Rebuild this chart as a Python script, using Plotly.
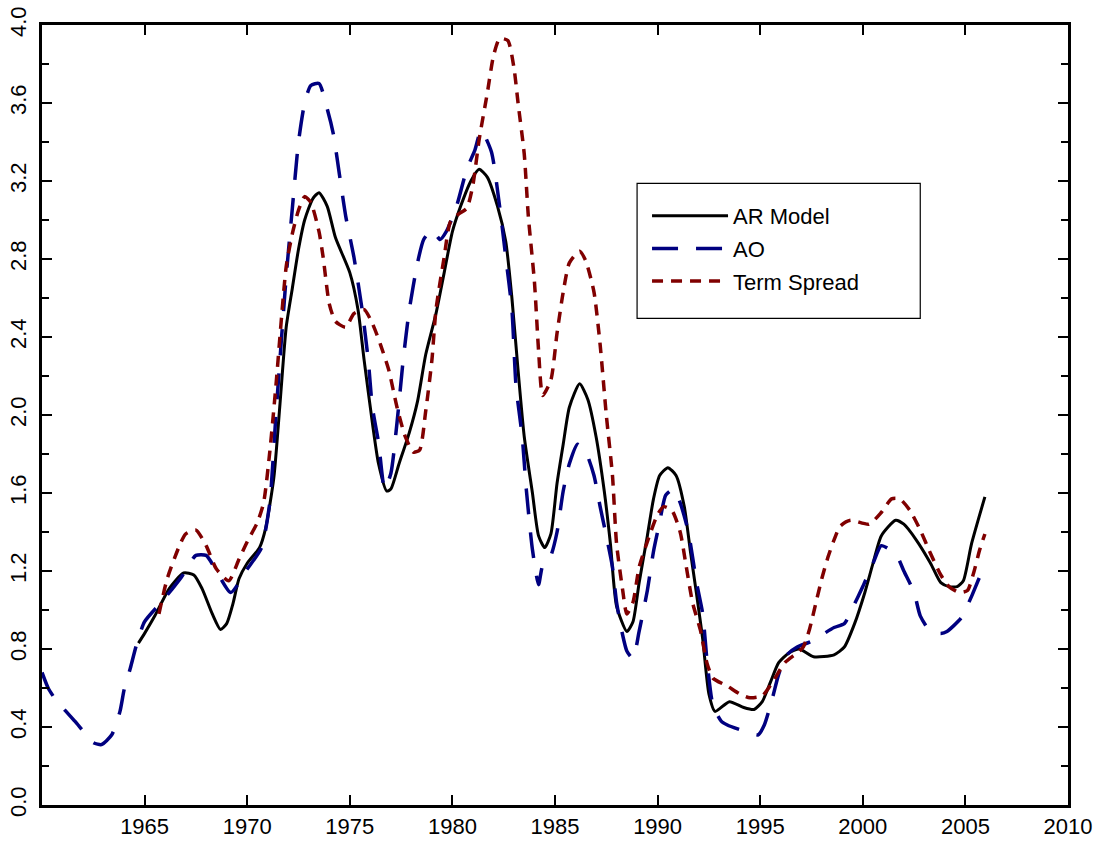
import plotly.graph_objects as go

ar_years = [1964.7, 1965.0, 1965.5, 1966.2, 1966.9, 1967.4, 1967.8, 1968.3, 1968.7, 1969.0,
            1969.3, 1969.6, 1970.0, 1970.6, 1970.9, 1971.3, 1971.6, 1971.9, 1972.2, 1972.5,
            1972.8, 1973.2, 1973.5, 1973.9, 1974.3, 1975.0, 1975.4, 1975.7, 1976.1, 1976.4,
            1976.8, 1977.0, 1977.4, 1977.9, 1978.3, 1978.7, 1979.2, 1979.6, 1980.0, 1980.4,
            1980.9, 1981.3, 1981.7, 1982.2, 1982.6, 1982.9, 1983.2, 1983.5, 1983.9, 1984.2,
            1984.5, 1984.8, 1985.1, 1985.4, 1985.7, 1986.2, 1986.6, 1987.0, 1987.4, 1987.7,
            1988.0, 1988.5, 1988.8, 1989.1, 1989.5, 1989.8, 1990.1, 1990.5, 1990.9, 1991.3,
            1991.6, 1991.9, 1992.2, 1992.5, 1992.8, 1993.5, 1994.2, 1994.7, 1995.1, 1995.5,
            1995.9, 1996.4, 1996.9, 1997.6, 1998.6, 1999.1, 1999.6, 2000.1, 2000.5, 2000.9,
            2001.6, 2002.0, 2002.6, 2003.3, 2003.8, 2004.2, 2004.6, 2004.9, 2005.3, 2005.95]
ar_values = [0.83, 0.88, 0.97, 1.11, 1.19, 1.18, 1.11, 0.98, 0.90, 0.93,
             1.03, 1.16, 1.24, 1.32, 1.42, 1.68, 2.06, 2.45, 2.65, 2.85,
             3.00, 3.11, 3.14, 3.07, 2.91, 2.73, 2.54, 2.28, 1.96, 1.75,
             1.61, 1.62, 1.75, 1.91, 2.07, 2.31, 2.52, 2.73, 2.94, 3.07,
             3.20, 3.26, 3.22, 3.07, 2.89, 2.60, 2.23, 1.89, 1.60, 1.38,
             1.32, 1.39, 1.65, 1.85, 2.04, 2.16, 2.08, 1.89, 1.61, 1.34,
             1.02, 0.89, 0.94, 1.14, 1.38, 1.57, 1.69, 1.73, 1.69, 1.53,
             1.30, 1.08, 0.85, 0.57, 0.48, 0.53, 0.50, 0.49, 0.53, 0.63,
             0.73, 0.78, 0.80, 0.76, 0.77, 0.81, 0.93, 1.09, 1.24, 1.38,
             1.46, 1.44, 1.36, 1.24, 1.14, 1.12, 1.12, 1.15, 1.34, 1.58]

ao_years = [1960.0, 1960.3, 1960.6, 1961.0, 1961.6, 1962.0, 1962.5, 1962.9, 1963.4, 1963.8,
            1964.0, 1964.3, 1964.6, 1965.0, 1965.9, 1966.8, 1967.5, 1968.0, 1968.5, 1969.2,
            1970.0, 1970.7, 1971.1, 1971.4, 1971.9, 1972.2, 1972.5, 1972.8, 1973.1, 1973.5,
            1973.9, 1974.2, 1974.5, 1974.8, 1975.2, 1975.6, 1975.9, 1976.1, 1976.4, 1976.7,
            1977.0, 1977.3, 1977.6, 1977.9, 1978.3, 1978.6, 1979.0, 1979.4, 1979.7, 1980.2,
            1980.7, 1981.1, 1981.4, 1981.9, 1982.3, 1982.6, 1982.9, 1983.1, 1983.4, 1983.6,
            1983.9, 1984.2, 1984.4, 1984.8, 1985.1, 1985.4, 1985.7, 1986.1, 1986.5, 1986.9,
            1987.2, 1987.5, 1987.8, 1988.0, 1988.3, 1988.5, 1988.8, 1989.1, 1989.5, 1989.8,
            1990.1, 1990.4, 1990.8, 1991.1, 1991.5, 1991.9, 1992.2, 1992.4, 1992.7, 1993.1,
            1993.4, 1993.9, 1994.5, 1994.9, 1995.2, 1995.6, 1995.9, 1996.3, 1996.8, 1997.5,
            1998.6, 1999.1, 1999.5, 2000.0, 2000.5, 2000.9, 2001.3, 2001.7, 2002.0, 2002.5,
            2002.8, 2003.3, 2003.8, 2004.1, 2004.8, 2005.3, 2005.7, 2005.95]
ao_values = [0.68, 0.60, 0.55, 0.50, 0.43, 0.38, 0.32, 0.31, 0.36, 0.48,
             0.59, 0.70, 0.82, 0.94, 1.05, 1.17, 1.28, 1.28, 1.20, 1.09,
             1.21, 1.32, 1.55, 2.00, 2.71, 3.06, 3.40, 3.60, 3.69, 3.70,
             3.57, 3.44, 3.23, 3.02, 2.81, 2.54, 2.28, 2.04, 1.86, 1.62,
             1.70, 1.96, 2.28, 2.54, 2.78, 2.90, 2.95, 2.90, 2.94, 3.07,
             3.26, 3.36, 3.46, 3.35, 3.07, 2.81, 2.54, 2.15, 1.89, 1.62,
             1.31, 1.13, 1.23, 1.28, 1.40, 1.61, 1.75, 1.85, 1.81, 1.69,
             1.53, 1.38, 1.22, 1.04, 0.87, 0.79, 0.75, 0.89, 1.10, 1.30,
             1.45, 1.59, 1.62, 1.55, 1.40, 1.14, 0.98, 0.75, 0.51, 0.43,
             0.41, 0.39, 0.37, 0.36, 0.41, 0.55, 0.67, 0.77, 0.81, 0.84,
             0.91, 0.93, 1.01, 1.12, 1.24, 1.33, 1.31, 1.27, 1.20, 1.09,
             0.97, 0.89, 0.88, 0.89, 0.96, 1.07, 1.17, 1.22]

ts_years = [1965.7, 1966.1, 1966.7, 1967.0, 1967.5, 1968.0, 1968.5, 1969.1, 1969.6, 1970.0,
            1970.5, 1970.8, 1971.1, 1971.4, 1971.9, 1972.2, 1972.5, 1972.8, 1973.1, 1973.5,
            1973.7, 1974.0, 1974.3, 1974.8, 1975.2, 1975.7, 1976.1, 1976.5, 1976.9, 1977.3,
            1977.7, 1978.1, 1978.4, 1978.7, 1979.0, 1979.2, 1979.6, 1979.9, 1980.3, 1980.7,
            1981.0, 1981.3, 1981.7, 1982.0, 1982.3, 1982.7, 1983.0, 1983.2, 1983.5, 1983.7,
            1984.0, 1984.2, 1984.4, 1984.8, 1985.1, 1985.4, 1985.7, 1986.2, 1986.5, 1986.9,
            1987.2, 1987.5, 1987.8, 1988.0, 1988.3, 1988.5, 1988.8, 1989.1, 1989.6, 1990.0,
            1990.3, 1990.7, 1991.1, 1991.4, 1991.7, 1992.1, 1992.4, 1992.7, 1993.4, 1994.0,
            1994.5, 1995.1, 1995.6, 1996.2, 1996.8, 1997.1, 1997.4, 1997.7, 1998.0, 1998.3,
            1998.6, 1998.9, 1999.4, 2000.3, 2000.9, 2001.4, 2001.8, 2002.3, 2002.8, 2003.3,
            2003.8, 2004.2, 2004.7, 2005.1, 2005.4, 2005.7, 2005.95]
ts_values = [0.98, 1.16, 1.33, 1.39, 1.41, 1.33, 1.21, 1.15, 1.26, 1.35,
             1.45, 1.55, 1.81, 2.15, 2.76, 2.93, 3.05, 3.12, 3.09, 2.94,
             2.81, 2.57, 2.48, 2.45, 2.52, 2.54, 2.47, 2.36, 2.23, 2.04,
             1.89, 1.81, 1.82, 2.02, 2.28, 2.54, 2.81, 2.99, 3.03, 3.06,
             3.18, 3.41, 3.65, 3.84, 3.93, 3.92, 3.78, 3.60, 3.34, 3.02,
             2.68, 2.33, 2.10, 2.18, 2.42, 2.63, 2.78, 2.84, 2.79, 2.63,
             2.36, 2.00, 1.69, 1.34, 1.10, 0.98, 1.04, 1.22, 1.38, 1.49,
             1.53, 1.51, 1.40, 1.22, 1.04, 0.89, 0.73, 0.65, 0.61, 0.57,
             0.55, 0.56, 0.63, 0.73, 0.78, 0.81, 0.90, 1.03, 1.16, 1.27,
             1.36, 1.43, 1.46, 1.44, 1.50, 1.57, 1.57, 1.51, 1.41, 1.29,
             1.18, 1.12, 1.09, 1.10, 1.19, 1.31, 1.39]

series_names = ["AR Model", "AO", "Term Spread"]
x_tick_vals = [1965, 1970, 1975, 1980, 1985, 1990, 1995, 2000, 2005, 2010]

assert len(ar_years) == len(ar_values)
assert len(ao_years) == len(ao_values)
assert len(ts_years) == len(ts_values)

FONT = "Liberation Sans"

fig = go.Figure()
fig.add_trace(go.Scatter(x=ar_years, y=ar_values, mode="lines", name=series_names[0],
                         legendgroup="a",
                         line=dict(color="black", width=3, shape="spline", smoothing=0.6)))
fig.add_trace(go.Scatter(x=ao_years, y=ao_values, mode="lines", name=series_names[1],
                         legendgroup="b",
                         line=dict(color="#000080", width=3.5, dash="26px,18px",
                                   shape="spline", smoothing=0.6)))
fig.add_trace(go.Scatter(x=ts_years, y=ts_values, mode="lines", name=series_names[2],
                         legendgroup="c",
                         line=dict(color="#800000", width=3.5, dash="11px,8px",
                                   shape="spline", smoothing=0.6)))

fig.add_shape(type="rect", xref="paper", yref="paper",
              x0=0.580, x1=0.856, y0=0.624, y1=0.797,
              line=dict(color="black", width=1.2), fillcolor="white", layer="below")

fig.update_layout(
    width=1106, height=848,
    margin=dict(l=42, r=38, t=25, b=43, autoexpand=False),
    paper_bgcolor="white", plot_bgcolor="white",
    font=dict(family=FONT, size=22, color="black"),
    showlegend=True,
    legend=dict(x=0.5897, y=0.782, xanchor="left", yanchor="top",
                bgcolor="rgba(0,0,0,0)", borderwidth=0,
                itemwidth=76, tracegroupgap=1,
                font=dict(family=FONT, size=22, color="black")),
    xaxis=dict(range=[1960, 2010], tickmode="array", tickvals=x_tick_vals,
               ticks="inside", ticklen=10, tickwidth=1.5, tickcolor="black",
               showline=True, linecolor="black", linewidth=2.5, mirror="ticks",
               showgrid=False, zeroline=False, automargin=False,
               ticklabeloverflow="allow",
               tickfont=dict(family=FONT, size=22)),
    yaxis=dict(range=[0, 4], tickmode="linear", tick0=0, dtick=0.4, tickformat=".1f",
               ticks="inside", ticklen=10, tickwidth=1.5, tickcolor="black",
               minor=dict(dtick=0.2, ticks="inside", ticklen=7, tickwidth=1.5, tickcolor="black"),
               showline=True, linecolor="black", linewidth=2.5, mirror="ticks",
               showgrid=False, zeroline=False, tickangle=-90, automargin=False,
               ticklabeloverflow="allow", ticklabelstandoff=4,
               tickfont=dict(family=FONT, size=22)),
)

fig.write_html("out.html", config={"displayModeBar": False},
               post_script="document.body.style.margin='0';")
